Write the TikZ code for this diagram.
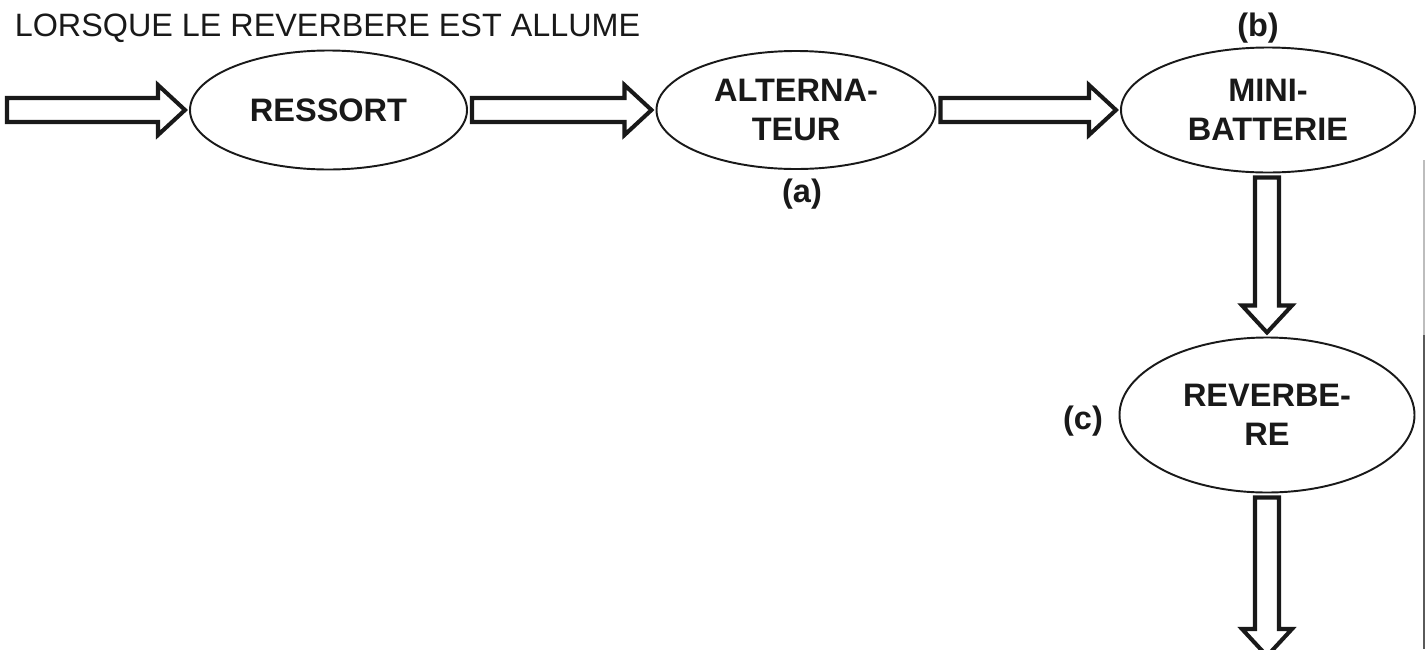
\documentclass[tikz,border=0pt]{standalone}
\usepackage{fontspec}
\setmainfont{Liberation Sans}
\usepackage{tikz}
\usetikzlibrary{shapes.geometric, calc, positioning}
\definecolor{InkBlack}{RGB}{25, 25, 25}
\definecolor{FrameGray}{RGB}{90, 90, 90}
\tikzset{
  stage/.style={ellipse, draw=InkBlack, line width=1.1pt, fill=white,
    inner sep=0pt, outer sep=0.1cm, align=center, text=InkBlack,
    font=\fontsize{18.5}{22.1}\selectfont\bfseries},
  tag/.style={font=\fontsize{18.5}{22.1}\selectfont\bfseries, text=InkBlack,
    inner sep=0pt},
  blk/.style={draw=InkBlack, line width=2.3pt, fill=white, line join=miter},
}
% hollow block arrow from one point to another
\newcommand{\blockarrow}[2]{%
  \draw[blk] let \p1=(#1), \p2=(#2),
    \n1={veclen(\x2-\x1,\y2-\y1)}, \n2={atan2(\y2-\y1,\x2-\x1)} in
    {[shift={(\p1)}, rotate=\n2]
     (0cm,-0.24cm) -- (\n1-0.54cm,-0.24cm) -- (\n1-0.54cm,-0.5cm) -- (\n1,0cm)
     -- (\n1-0.54cm,0.5cm) -- (\n1-0.54cm,0.24cm) -- (0cm,0.24cm) -- cycle};}

\begin{document}
\begin{tikzpicture}
  \useasboundingbox (0,0) rectangle (28.54,-12.98);

  \node[anchor=base west, inner sep=0pt, text=InkBlack,
        font=\fontsize{18.4}{22}\selectfont] (title) at (0.29,-0.72)
    {LORSQUE LE REVERBERE EST ALLUME};

  \coordinate (start) at (0.14,-2.2);
  \node[stage, minimum width=5.54cm, minimum height=2.38cm] (ressort)
    at (6.57,-2.2) {RESSORT};
  \node[stage, minimum width=5.58cm, minimum height=2.36cm] (alt)
    at (15.92,-2.2) {ALTERNA-\\TEUR};
  \node[stage, minimum width=5.88cm, minimum height=2.5cm] (mini)
    at (25.36,-2.2) {MINI-\\BATTERIE};
  \node[stage, minimum width=5.9cm, minimum height=3.1cm] (reverbe)
    at (25.34,-8.3) {REVERBE-\\RE};
  \coordinate (end) at (25.34,-13.12);

  \node[tag] (a) at (16.04,-3.88) {(a)};
  \node[tag] (b) at (25.16,-0.57) {(b)};
  \node[tag] (c) at (21.66,-8.43) {(c)};

  \blockarrow{start}{ressort.west}
  \blockarrow{ressort.east}{alt.west}
  \blockarrow{alt.east}{mini.west}
  \blockarrow{mini.south-|reverbe.north}{reverbe.north}
  \blockarrow{reverbe.south}{end}

  % edge of the frame on the right
  \draw[FrameGray!40, line width=0.6pt] (28.48,-3.2) -- (28.48,-6.7);
  \draw[FrameGray, line width=0.9pt] (28.48,-6.7) -- (28.48,-12.98);
\end{tikzpicture}
\end{document}
